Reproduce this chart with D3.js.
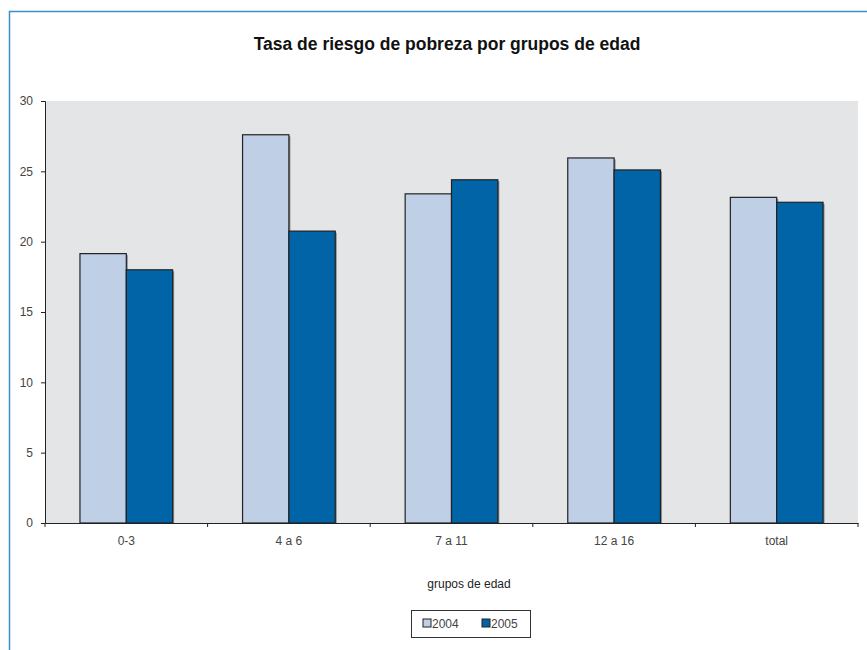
<!DOCTYPE html>
<html>
<head>
<meta charset="utf-8">
<script src="https://cdnjs.cloudflare.com/ajax/libs/d3/7.8.5/d3.min.js"></script>
<style>
  body { margin: 0; background: #fff; }
  text { font-family: "Liberation Sans", Arial, sans-serif; }
</style>
</head>
<body>
<script>
var width = 867, height = 650;

// data
var grupos = ["0-3", "4 a 6", "7 a 11", "12 a 16", "total"];
var anios = ["2004", "2005"];
var valores2004 = [19.15, 27.6, 23.4, 25.95, 23.15];
var valores2005 = [18.0, 20.75, 24.4, 25.1, 22.8];
var yTicks = [0, 5, 10, 15, 20, 25, 30];

var colores = { "2004": "#bfcfe5", "2005": "#0064a6" };

var svg = d3.select("body").append("svg")
    .attr("width", width)
    .attr("height", height);

// blue frame
svg.append("path")
    .attr("d", "M9.5," + height + "V11.5H" + width)
    .attr("fill", "none")
    .attr("stroke", "#3d8fc7")
    .attr("stroke-width", 1.5);

var margin = { left: 45, right: 9, top: 101, bottom: 127 };
var plotW = width - margin.left - margin.right;
var plotH = height - margin.top - margin.bottom;

var x = d3.scaleBand().domain(grupos).range([0, plotW]);
var x1 = d3.scaleBand().domain(anios).range([x.bandwidth() * 0.215, x.bandwidth() * 0.785]);
var y = d3.scaleLinear().domain([0, 30]).range([plotH, 0]);

var g = svg.append("g")
    .attr("transform", "translate(" + margin.left + "," + margin.top + ")");

g.append("rect")
    .attr("width", plotW)
    .attr("height", plotH)
    .attr("fill", "#e4e5e7");

var data = grupos.map(function (d, i) {
    return { grupo: d, valores: [
        { anio: "2004", v: valores2004[i] },
        { anio: "2005", v: valores2005[i] }
    ] };
});

var grupo = g.selectAll(".grupo")
    .data(data)
    .enter().append("g")
    .attr("transform", function (d) { return "translate(" + x(d.grupo) + ",0)"; });

// shadow
grupo.selectAll(".sombra")
    .data(function (d) { return d.valores; })
    .enter().append("rect")
    .attr("x", function (d) { return x1(d.anio) + 1.5; })
    .attr("y", function (d) { return y(d.v) + 1.5; })
    .attr("width", x1.bandwidth())
    .attr("height", function (d) { return plotH - y(d.v) - 1.5; })
    .attr("fill", "#8a8c90");

grupo.selectAll(".barra")
    .data(function (d) { return d.valores; })
    .enter().append("rect")
    .attr("x", function (d) { return x1(d.anio); })
    .attr("y", function (d) { return y(d.v); })
    .attr("width", x1.bandwidth())
    .attr("height", function (d) { return plotH - y(d.v); })
    .attr("fill", function (d) { return colores[d.anio]; })
    .attr("stroke", "#222")
    .attr("stroke-width", 1.2);

// y axis
var yAxis = g.append("g")
    .call(d3.axisLeft(y).tickValues(yTicks).tickSize(4).tickPadding(8));
yAxis.select(".domain").attr("stroke", "#222");
yAxis.selectAll(".tick line").attr("stroke", "#222");
yAxis.selectAll("text").attr("fill", "#444").style("font-size", "12px");

// x axis
var xAxis = g.append("g")
    .attr("transform", "translate(0," + plotH + ")")
    .call(d3.axisBottom(x).tickSize(0).tickPadding(13));
xAxis.select(".domain").attr("stroke", "#222");
xAxis.selectAll("text").attr("fill", "#444").style("font-size", "12px");

g.selectAll(".xtick")
    .data(d3.range(grupos.length + 1))
    .enter().append("line")
    .attr("x1", function (i) { return i * x.step(); })
    .attr("x2", function (i) { return i * x.step(); })
    .attr("y1", plotH)
    .attr("y2", plotH + 4)
    .attr("stroke", "#222");

// title
svg.append("text")
    .attr("x", 447)
    .attr("y", 50)
    .attr("text-anchor", "middle")
    .style("font-size", "17.5px")
    .style("font-weight", "bold")
    .attr("fill", "#111")
    .text("Tasa de riesgo de pobreza por grupos de edad");

svg.append("text")
    .attr("x", 469)
    .attr("y", 588)
    .attr("text-anchor", "middle")
    .style("font-size", "12px")
    .attr("fill", "#222")
    .text("grupos de edad");

// legend
var leg = svg.append("g").attr("transform", "translate(411,610)");
leg.append("rect")
    .attr("x", 0.5).attr("y", 0.5)
    .attr("width", 119).attr("height", 27)
    .attr("fill", "#fff")
    .attr("stroke", "#333");

var item = leg.selectAll(".item")
    .data(anios)
    .enter().append("g")
    .attr("transform", function (d, i) { return "translate(" + (12 + i * 59) + ",9)"; });
item.append("rect")
    .attr("width", 8).attr("height", 8)
    .attr("fill", function (d) { return colores[d]; })
    .attr("stroke", "#222");
item.append("text")
    .attr("x", 9).attr("y", 8.5)
    .style("font-size", "12px")
    .attr("fill", "#444")
    .text(function (d) { return d; });
</script>
</body>
</html>
